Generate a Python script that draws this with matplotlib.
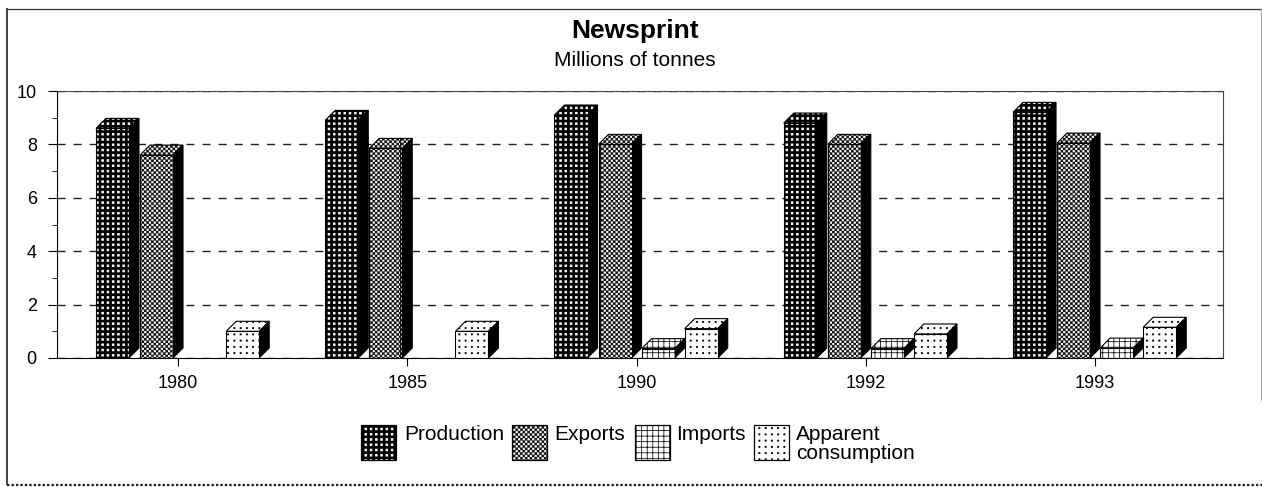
import matplotlib
matplotlib.use('Agg')
import matplotlib.pyplot as plt
from matplotlib import hatch as mhatch
from matplotlib.lines import Line2D
from matplotlib.patches import Polygon, Rectangle

W, H = 1262, 487
DPI = 100

years = ['1980', '1985', '1990', '1992', '1993']
series_names = ['Production', 'Exports', 'Imports', 'Apparent\nconsumption']
production = [8.6, 8.9, 9.1, 8.8, 9.2]
exports = [7.6, 7.85, 8.0, 8.0, 8.05]
imports = [0, 0, 0.35, 0.35, 0.37]
consumption = [1.0, 1.0, 1.1, 0.9, 1.15]

# custom fills: one hatch tile is 100 px at this dpi, dots also get stroked with hatch.linewidth
# code: columns, rows, dot half size, staggered
DOT_FILLS = {'p': (19, 19, 0.0085, False), 'k': (21, 42, 0.0068, True), 'd': (16, 16, 0.0055, False)}
GRID_PITCH = 18


class DotFill(mhatch.HatchPatternBase):
    filled = True

    def __init__(self, hatch, density):
        self.spec = DOT_FILLS.get(hatch[0]) if hatch else None
        n = self.spec[0] * self.spec[1] * 5 if self.spec else 0
        self.num_vertices = n
        self.num_codes = n

    def set_vertices_and_codes(self, vertices, codes):
        cols, rows, r, stagger = self.spec
        n = 0
        for i in range(cols):
            for j in range(rows):
                cx = (i + .5 + (.5 * (j % 2) if stagger else 0)) / cols
                cy = (j + .5) / rows
                vertices[n:n + 5] = [(cx - r, cy - r), (cx + r, cy - r), (cx + r, cy + r),
                                     (cx - r, cy + r), (cx - r, cy - r)]
                codes[n:n + 5] = [1, 2, 2, 2, 79]
                n += 5


class GridFill(mhatch.HatchPatternBase):
    filled = False

    def __init__(self, hatch, density):
        n = GRID_PITCH * 4 if hatch and hatch[0] == 'g' else 0
        self.num_vertices = n
        self.num_codes = n

    def set_vertices_and_codes(self, vertices, codes):
        n = 0
        for i in range(GRID_PITCH):
            t = (i + .5) / GRID_PITCH
            vertices[n:n + 4] = [(t, 0), (t, 1), (0, t), (1, t)]
            codes[n:n + 4] = [1, 2, 1, 2]
            n += 4


mhatch._hatch_types.extend([DotFill, GridFill])
mhatch._validate_hatch_pattern = lambda h: None
plt.rcParams['hatch.linewidth'] = 0.55
plt.rcParams['font.family'] = ['Liberation Sans', 'DejaVu Sans']

# face colour, hatch colour, hatch code
styles = [
    ('black', 'white', 'p'),
    ('#141414', 'white', 'k'),
    ('white', 'black', 'g'),
    ('white', 'black', 'd'),
]
offsets = [-0.358, -0.166, 0.022, 0.21]
bar_w = 0.144


def fx(px):
    return px / W


def fy(py):
    return 1 - py / H


def frame_line(xs, ys, **kw):
    fig.add_artist(Line2D([fx(x) for x in xs], [fy(y) for y in ys], transform=fig.transFigure, **kw))


fig = plt.figure(figsize=(W / DPI, H / DPI), dpi=DPI)
fig.patch.set_facecolor('white')

# the outer box, right side runs off the page edge and the bottom is a rough dotted line
frame_line([7, 7], [9, 484], color='#333333', lw=1.3)
frame_line([7, 1261], [9, 9], color='#333333', lw=0.9)
frame_line([1261, 1261], [9, 400], color='#aaaaaa', lw=0.8)
frame_line([7, 1262], [485, 485], color='#222222', lw=1.6, dashes=(1.1, 0.9))

ax = fig.add_axes([fx(57), fy(358), (1223 - 57) / W, (358 - 91) / H])
ax.set_xlim(-0.528, 4.558)
ax.set_ylim(0, 10)
ax.patch.set_alpha(0)

ax.yaxis.grid(True, color='#222222', lw=1, dashes=(5.8, 5.8))
ax.set_axisbelow(True)
ax.set_yticks([0, 2, 4, 6, 8, 10])
ax.set_yticks([1, 3, 5, 7, 9], minor=True)
ax.tick_params(axis='y', which='major', length=6.5, width=0.8, labelsize=13, pad=8)
ax.tick_params(axis='y', which='minor', length=3.5, width=0.6)
ax.set_xticks(range(len(years)))
ax.set_xticklabels(years)
ax.tick_params(axis='x', length=6, width=0.8, labelsize=13, pad=6)
for side in ['top', 'right']:
    ax.spines[side].set_linewidth(0.8)
    ax.spines[side].set_color('#444444')

# depth of the 3d bars, in data units
dep_x = 10 / 229.25
dep_y = 10 / 26.7

all_series = [production, exports, imports, consumption]
for values, off, st in zip(all_series, offsets, styles):
    face, hcol, code = st
    for i, v in enumerate(values):
        if v <= 0:
            continue
        x0 = i + off
        x1 = x0 + bar_w
        top = [(x0, v), (x1, v), (x1 + dep_x, v + dep_y), (x0 + dep_x, v + dep_y)]
        ax.add_patch(Polygon(top, facecolor=face, edgecolor=hcol, hatch=code, lw=0, zorder=3))
        ax.add_patch(Polygon(top, fill=False, edgecolor='black', lw=0.8, zorder=3.1))
        ax.add_patch(Polygon([(x1, 0), (x1 + dep_x, dep_y), (x1 + dep_x, v + dep_y), (x1, v)],
                             facecolor='black', edgecolor='black', lw=0.8, zorder=3))
        ax.bar(x0, v, bar_w, align='edge', facecolor=face, edgecolor=hcol, hatch=code, lw=0, zorder=3.2)
        ax.bar(x0, v, bar_w, align='edge', fill=False, edgecolor='black', lw=0.8, zorder=3.3)

fig.text(fx(635), fy(31), 'Newsprint', ha='center', va='center', fontsize=19, fontweight='bold')
fig.text(fx(635), fy(60), 'Millions of tonnes', ha='center', va='center', fontsize=15)

# legend swatches and labels
swatch_x = [361, 512, 635, 754]
label_x = [404, 554, 676, 796]
for name, sx, lx, st in zip(series_names, swatch_x, label_x, styles):
    face, hcol, code = st
    fig.add_artist(Rectangle((fx(sx), fy(460)), 35 / W, 35 / H, transform=fig.transFigure,
                             facecolor=face, edgecolor=hcol, hatch=code, lw=0))
    fig.add_artist(Rectangle((fx(sx), fy(460)), 35 / W, 35 / H, transform=fig.transFigure,
                             fill=False, edgecolor='black', lw=0.9))
    fig.text(fx(lx), fy(425), name, ha='left', va='top', fontsize=15, linespacing=0.97)

fig.savefig('out.png', dpi=DPI)
